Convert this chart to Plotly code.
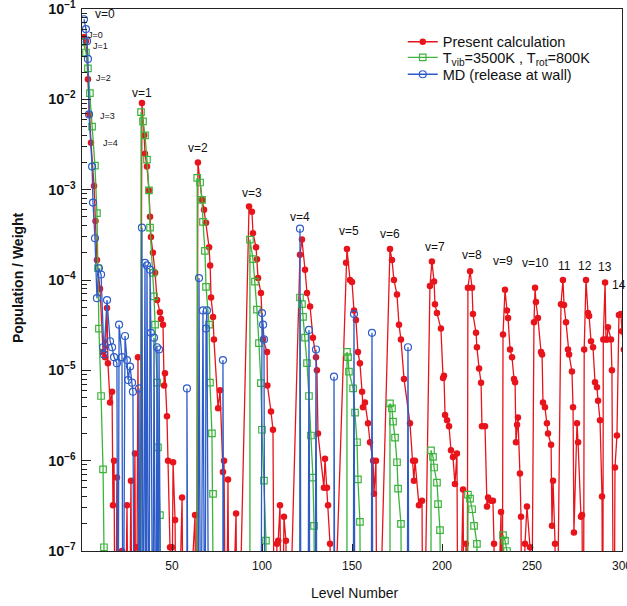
import numpy as np
import plotly.graph_objects as go

# ---------------- data (level number, population/weight) ----------------
# values of 1e-9 mean "below the plotted range" (line drops to the bottom)
red_level = [
    1.1, 2.2, 3.3, 4.2, 5.0, 6.7, 7.5, 8.3, 10.0, 11.7, 12.8, 13.9, 14.4, 15.6, 16.7, 17.2, 17.8, 18.5,
    19.4, 20.0, 22.2, 23.5, 25.0, 26.0, 27.2, 28.0, 29.4, 30.0, 30.6, 31.1, 32.0,
    33.3, 34.5, 35.0, 36.1, 37.2, 37.8, 38.3, 39.4, 40.6, 41.7, 43.3, 43.9, 45.0, 45.6, 46.1, 47.2,
    47.8, 48.9, 49.5, 50.0, 50.6, 51.7, 52.5, 55.6, 56.5, 62.8, 63.5,
    64.4, 66.7, 67.8, 68.9, 70.6, 71.2, 71.7, 72.8, 73.3, 75.6, 76.7, 78.3, 78.9, 80.0, 81.1, 82.0,
    85.6, 86.2,
    92.8, 94.4, 95.0, 96.7, 97.2, 97.8, 99.4, 100.6, 102.8, 103.0, 105.0, 106.1, 107.0, 108.3, 109.0,
    110.0, 111.0, 112.2, 113.3, 114.0,
    121.1, 122.2, 123.9, 125.0, 126.7, 128.3, 130.0, 130.5, 131.1, 134.4, 135.0, 136.1, 136.7, 137.8,
    138.5,
    146.7, 147.2, 148.9, 150.0, 151.1, 152.2, 153.3, 154.4, 155.6, 156.1, 157.2, 158.9, 160.0, 161.7,
    162.2, 163.3, 164.0,
    171.1, 172.2, 173.3, 175.0, 176.1, 177.2, 178.9, 182.2, 183.9, 184.4, 185.0, 187.2, 188.9, 189.5,
    193.3, 194.4, 195.6, 196.1, 197.2, 199.4, 200.6, 201.1, 201.7, 202.8, 203.9, 205.0, 206.1, 207.2,
    208.3, 209.0, 211.7, 212.5, 213.3, 213.9,
    214.4, 215.6, 216.7, 217.2, 218.9, 219.4, 220.6, 221.7, 222.2, 223.9, 225.0, 225.6, 227.2, 228.3,
    228.9, 229.5, 232.8, 233.4,
    233.9, 235.0, 236.1, 236.7, 237.8, 238.9, 240.0, 240.6, 241.1, 241.7, 242.2, 243.3, 243.9, 244.5,
    246.1, 247.2, 248.9, 249.5,
    251.1, 251.7, 252.2, 253.3, 255.0, 255.6, 256.1, 257.2, 258.3, 258.9, 260.6, 261.1, 261.7, 262.8,
    263.5,
    266.1, 267.2, 267.8, 268.9, 270.0, 270.6, 272.2, 272.8, 273.3, 275.0, 275.6, 277.2, 277.8, 278.5,
    279.0, 280.0, 281.1, 281.7, 282.8, 283.9, 285.0, 286.1, 286.7, 287.8, 288.9, 289.3,
    289.6, 290.6, 291.1, 291.7, 292.2, 293.9, 294.4, 295.5, 296.1, 297.2,
    298.3, 299.4, 300.0, 301.0,
]
red_value = [
    4.9e-2, 4.4e-2, 1.67e-2, 6.8e-3, 3.3e-3, 1.1e-3, 4.5e-4, 1.67e-4, 8e-5, 1.6e-5, 1.4e-5, 4.9e-5, 1.2e-5, 4.4e-6, 5.8e-6, 3.2e-7, 1.0e-6, 1e-9,
    6.5e-7, 1e-9, 1.0e-7, 1e-9, 3.2e-7, 1e-9, 6e-7, 1e-9, 1.2e-6, 1e-9, 1.1e-7, 1.4e-5, 1e-9,
    9.1e-3, 4e-3, 2.5e-3, 1.8e-3, 9.8e-4, 5e-4, 3e-4, 2e-4, 1.2e-4, 6e-5, 4.4e-5, 3.7e-5, 3.2e-5, 6.8e-6, 9.3e-6, 3.1e-6,
    1.0e-6, 1.1e-7, 1e-9, 1.1e-7, 9.6e-7, 2.2e-7, 1e-9, 3.9e-7, 1e-9, 2.5e-7, 1e-9,
    2.0e-3, 7.7e-4, 6e-4, 4.3e-4, 2.3e-4, 1.45e-4, 6.4e-5, 3.9e-5, 2.2e-5, 3.8e-6, 6e-6, 7.5e-7, 1.0e-6, 1e-9, 6.2e-7, 1e-9,
    2.6e-7, 1e-9,
    6.5e-4, 5.7e-4, 3.3e-4, 2.3e-4, 1.7e-4, 1.05e-4, 7.2e-5, 2.2e-5, 1.6e-5, 6.8e-6, 3.5e-6, 2.2e-6, 1e-9, 1.2e-7, 1.3e-7,
    3.2e-7, 1e-9, 2.4e-7, 1.3e-7, 1e-9,
    1.9e-4, 2.8e-4, 1.3e-4, 7.2e-5, 5.1e-5, 2.3e-5, 1.4e-5, 1.0e-5, 2.0e-6, 5e-7, 1.05e-6, 5e-7, 3.2e-7, 1.2e-7,
    1e-9,
    1.55e-4, 2.2e-4, 1.0e-4, 9.5e-5, 4.6e-5, 3.6e-5, 1.6e-5, 1.2e-5, 5.8e-6, 3.9e-6, 4.4e-6, 2.6e-6, 1.6e-6, 1.0e-6,
    4.3e-7, 1.0e-6, 1e-9,
    2.2e-4, 1.67e-4, 1.0e-4, 6.9e-5, 3.2e-5, 2.2e-5, 8e-6, 2.6e-6, 1.0e-6, 6e-7, 1.0e-6, 3.2e-7, 3.6e-7, 1e-9,
    8.6e-5, 1.6e-4, 9.6e-5, 5.4e-5, 4.3e-5, 2.9e-5, 8.2e-6, 8.7e-6, 3.2e-6, 2.8e-6, 2.4e-6, 1.3e-6, 1.1e-6, 5.5e-7,
    1.2e-6, 1e-9, 4.8e-7, 1e-9, 1.2e-7, 1e-9,
    8.2e-5, 1.25e-4, 8.2e-5, 4.2e-5, 2.6e-5, 1.8e-5, 1.05e-5, 7.3e-6, 2.4e-6, 2.4e-6, 3.1e-7, 3.9e-7, 3.6e-7, 3.6e-7,
    1.2e-7, 1e-9, 2.7e-7, 1e-9,
    2.5e-5, 7.8e-5, 4.6e-5, 3.8e-5, 1.7e-5, 1.4e-5, 8e-6, 7.4e-6, 1.6e-6, 2.5e-6, 3.0e-6, 7.2e-7, 2.4e-7, 1e-9,
    1.2e-7, 3.1e-7, 1.1e-7, 1e-9,
    3.4e-5, 8.2e-5, 5.7e-5, 3.8e-5, 1.6e-5, 1.5e-5, 4.4e-6, 3.9e-6, 2.6e-6, 2.0e-6, 1.5e-6, 1.9e-7, 6e-7, 1.2e-7,
    1e-9,
    5.4e-5, 1.0e-4, 5.3e-5, 3.4e-5, 1.7e-5, 1.5e-5, 9.7e-6, 3.9e-6, 1.6e-7, 2.6e-6, 1.6e-6, 2.4e-7, 2.5e-7, 1e-9,
    1.7e-5, 1.0e-4, 4.3e-5, 4.0e-5, 2.1e-5, 1.8e-5, 7.4e-6, 6.5e-6, 4.6e-6, 2.8e-6, 4e-7, 1e-9,
    2.2e-5, 9.4e-5, 2.2e-5, 2.2e-5, 3.0e-5, 2.2e-5, 1.0e-5, 1e-9, 8.4e-7, 1.9e-6,
    4.1e-5, 4.2e-5, 2.7e-5, 1.7e-5,
]

green_level = [
    0.6, 2.2, 3.3, 4.4, 5.6, 7.2, 8.3, 8.9, 9.4, 10.6, 11.7, 12.2, 13.0,
    32.8, 32.8, 33.9, 35.0, 36.1, 37.2, 37.8, 39.4, 40.0, 40.6, 41.7, 42.2, 43.3, 44.0,
    64.0, 64.0, 65.6, 66.7, 67.2, 68.3, 68.9, 70.6, 71.1, 72.2, 72.8, 73.5,
    93.3, 93.3, 95.0, 96.1, 97.2, 98.3, 99.4, 100.0, 101.1, 102.2, 102.8,
    121.1, 121.1, 122.2, 122.8, 123.9, 125.0, 126.1, 127.2, 128.3, 128.9, 129.5,
    147.2, 147.2, 147.8, 148.3, 150.6, 151.7, 152.8, 153.3, 154.4, 155.0,
    171.1, 171.1, 172.2, 172.8, 173.9, 175.0, 175.6, 177.2, 177.8,
    193.9, 193.9, 195.0, 195.6, 197.2, 197.8, 198.9, 199.5,
    214.4, 214.4, 215.6, 216.7, 217.8, 219.4, 220.0,
    233.9, 233.9, 235.0, 236.1, 236.7,
]
green_value = [
    4.3e-2, 3.3e-2, 2.2e-2, 1.17e-2, 5e-3, 1.85e-3, 5.5e-4, 1.35e-4, 2.9e-5, 5.2e-6, 8e-7, 1.1e-7, 1e-9,
    1e-9, 7.2e-3, 5.7e-3, 4e-3, 2.15e-3, 9.8e-4, 3.8e-4, 1.2e-4, 6.6e-5, 3.2e-5, 7.3e-6, 1.4e-6, 2.5e-7, 1e-9,
    1e-9, 1.35e-3, 1.2e-3, 7.7e-4, 4.4e-4, 2.1e-4, 8.4e-5, 3.2e-5, 7.3e-6, 2e-6, 4.3e-7, 1e-9,
    1e-9, 2.8e-4, 1.7e-4, 9.6e-5, 4.7e-5, 2e-5, 7.2e-6, 2.2e-6, 6e-7, 1.3e-7, 1e-9,
    1e-9, 6.4e-5, 5.4e-5, 3.9e-5, 2.3e-5, 1.2e-5, 5.2e-6, 1.9e-6, 6.5e-7, 1.9e-7, 1e-9,
    1e-9, 1.6e-5, 1.4e-5, 9.7e-6, 6.3e-6, 3.4e-6, 1.6e-6, 6.2e-7, 2.1e-7, 1e-9,
    1e-9, 4.3e-6, 3.8e-6, 2.7e-6, 1.8e-6, 9.6e-7, 4.9e-7, 2e-7, 1e-9,
    1e-9, 1.3e-6, 1.1e-6, 8.4e-7, 5.7e-7, 3.3e-7, 1.7e-7, 1e-9,
    1e-9, 4.2e-7, 3.8e-7, 2.9e-7, 1.9e-7, 1.2e-7, 1e-9,
    1e-9, 1.5e-7, 1.3e-7, 1.0e-7, 1e-9,
]

blue_level = [
    1.1, 2.2, 2.8, 3.3, 3.9, 5.6, 6.1, 7.2, 8.3, 9.4, 10.6, 11.7, 12.2, 13.9, 15.6, 16.7, 17.8, 19.4,
    20.0, 20.6, 22.2, 22.8, 23.9, 25.0, 25.6, 26.7, 27.8, 28.3, 29.0, 31.0, 31.7, 32.3,
    33.3, 34.0, 35.0, 35.6, 36.1, 37.2, 37.8, 38.3, 39.4, 40.0, 41.0, 41.7, 42.2, 42.8, 43.9,
    58.3, 58.3, 59.0, 64.4, 65.0, 66.0, 67.2, 68.3, 68.9, 69.4, 70.5, 78.3, 78.3, 79.0,
    99.4, 100.0, 100.6, 101.1, 101.7,
    121.1, 121.1, 121.7, 125.5, 126.1, 126.7, 129.4, 130.0, 130.6, 140.0, 140.0, 140.6,
    150.6, 151.1, 151.7, 160.6, 161.1, 161.7,
    180.6, 181.1, 181.7,
]
blue_value = [
    7.7e-2, 6e-2, 4.4e-2, 2.8e-2, 6.8e-3, 1.8e-3, 7.2e-4, 2.9e-4, 6.3e-5, 1.35e-4, 1.15e-4, 1.8e-5, 1.5e-5, 6e-5, 2.1e-5, 1.8e-5, 1.4e-5, 1.2e-5,
    1e-9, 3.2e-5, 1.4e-5, 1e-9, 2.4e-5, 1.3e-5, 7.8e-6, 1.1e-5, 7.3e-6, 5.8e-6, 1e-9, 1e-9, 6.3e-6, 1e-9,
    3.8e-4, 1e-9, 1.55e-4, 1e-9, 1.45e-4, 1e-9, 1.3e-4, 2.6e-5, 1e-9, 2.3e-5, 1e-9, 1.8e-5, 1e-9, 1.7e-5, 1e-9,
    1e-9, 6.3e-6, 1e-9, 1e-9, 1.05e-4, 1e-9, 4.6e-5, 1e-9, 2.9e-5, 4.6e-5, 1e-9, 1e-9, 1.3e-5, 1e-9,
    1e-9, 4.3e-5, 3.2e-5, 2.2e-5, 1e-9,
    1e-9, 3.7e-4, 1e-9, 1e-9, 2.8e-5, 1e-9, 1e-9, 1.7e-5, 1e-9, 1e-9, 8.5e-6, 1e-9,
    1e-9, 4.2e-5, 1e-9, 1e-9, 2.6e-5, 1e-9,
    1e-9, 1.8e-5, 1e-9,
]

label_text = ["v=0", "v=1", "v=2", "v=3", "v=4", "v=5", "v=6", "v=7", "v=8", "v=9", "v=10",
              "11", "12", "13", "14"]
label_level = [12.8, 33.3, 64.4, 94.4, 121.1, 148.3, 171.1, 196.1, 216.7, 233.9, 252.2,
               267.8, 279.4, 290.6, 298.6]
label_value = [8.8e-2, 1.17e-2, 2.86e-3, 9.3e-4, 5.0e-4, 3.5e-4, 3.2e-4, 2.33e-4, 1.9e-4,
               1.63e-4, 1.55e-4, 1.43e-4, 1.43e-4, 1.39e-4, 8.8e-5]

j_text = ["J=0", "J=1", "J=2", "J=3", "J=4"]
j_level = [7.6, 10.2, 12.2, 14.4, 15.6]
j_value = [5.1e-2, 3.9e-2, 1.71e-2, 6.6e-3, 3.3e-3]

series_names = ["Present calculation",
                "T<sub>vib</sub>=3500K , T<sub>rot</sub>=800K",
                "MD (release at wall)"]

# ---------------- figure ----------------
RED = "#e8141c"
GREEN = "#3cb43c"
BLUE = "#2d5cc8"
FONT = "Liberation Sans, Arial, sans-serif"

fig = go.Figure()
fig.add_trace(go.Scatter(
    x=red_level, y=red_value, mode="lines+markers", name=series_names[0], legend="legend",
    line=dict(color=RED, width=1.3),
    marker=dict(symbol="circle", size=6.5, color=RED, line=dict(width=0)),
))
fig.add_trace(go.Scatter(
    x=green_level, y=green_value, mode="lines+markers", name=series_names[1], legend="legend2",
    line=dict(color=GREEN, width=1.3),
    marker=dict(symbol="square-open", size=6.5, color=GREEN, line=dict(width=1.2)),
))
fig.add_trace(go.Scatter(
    x=blue_level, y=blue_value, mode="lines+markers", name=series_names[2], legend="legend3",
    line=dict(color=BLUE, width=1.3),
    marker=dict(symbol="circle-open", size=7, color=BLUE, line=dict(width=1.2)),
))

annotations = []
for t, xv, yv in zip(label_text, label_level, label_value):
    annotations.append(dict(x=xv, y=np.log10(yv), xref="x", yref="y", text=t,
                            xanchor="center", yanchor="middle",
                            showarrow=False, font=dict(size=12, color="#111", family=FONT)))
for t, xv, yv in zip(j_text, j_level, j_value):
    annotations.append(dict(x=xv, y=np.log10(yv), xref="x", yref="y", text=t,
                            xanchor="center", yanchor="middle",
                            showarrow=False, font=dict(size=9, color="#111", family=FONT)))
annotations.append(dict(x=-0.118, y=0.504, xref="paper", yref="paper",
                        xanchor="center", yanchor="middle",
                        text="Population / Weight", textangle=-90, showarrow=False,
                        font=dict(size=14, color="#111", family=FONT, weight="bold")))
annotations.append(dict(x=0.504, y=-0.0775, xref="paper", yref="paper",
                        xanchor="center", yanchor="middle",
                        text="Level Number", showarrow=False,
                        font=dict(size=14, color="#111", family=FONT)))

legend_style = dict(xanchor="left", yanchor="top", bgcolor="rgba(255,255,255,0)",
                    font=dict(size=14.5, family=FONT, color="#111"), itemwidth=30)

fig.update_layout(
    width=627, height=606,
    margin=dict(l=82, r=5, t=9, b=55, autoexpand=False),
    paper_bgcolor="white", plot_bgcolor="white",
    font=dict(family=FONT, color="#111"),
    showlegend=True,
    legend=dict(x=0.594, y=0.969, **legend_style),
    legend2=dict(x=0.594, y=0.940, **legend_style),
    legend3=dict(x=0.594, y=0.909, **legend_style),
    annotations=annotations,
    xaxis=dict(range=[0, 300], tickvals=[50, 100, 150, 200, 250, 300],
               ticks="inside", ticklen=7, tickwidth=1, tickcolor="#222",
               showline=True, linecolor="#222", linewidth=1, mirror=True,
               showgrid=False, zeroline=False, ticklabelstandoff=4,
               ticklabeloverflow="allow", automargin=False,
               tickfont=dict(size=12, family=FONT, color="#111")),
    yaxis=dict(type="log", range=[-7, -1], dtick=1, exponentformat="power",
               ticks="inside", ticklen=9, tickwidth=1, tickcolor="#222",
               minor=dict(ticks="inside", ticklen=5, tickcolor="#222", dtick="D1", showgrid=False),
               showline=True, linecolor="#222", linewidth=1, mirror=True,
               showgrid=False, zeroline=False, ticklabeloverflow="allow",
               ticklabelstandoff=3, automargin=False,
               tickfont=dict(size=11.5, family=FONT, color="#111", weight="bold")),
)

fig.write_html("out.html", config={"displayModeBar": False},
               post_script="document.body.style.margin='0px';")
